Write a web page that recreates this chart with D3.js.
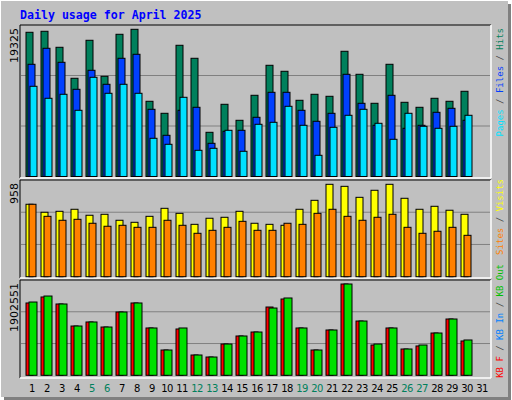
<!DOCTYPE html>
<html><head><meta charset="utf-8">
<script src="https://cdn.jsdelivr.net/npm/d3@7"></script>
<style>body{margin:0;background:#fff}</style>
</head><body>
<script>
// daily stats, April 2025 (day 31 has no data)
var days = d3.range(1, 32);
var weekends = [5, 6, 12, 13, 19, 20, 26, 27];
var hits = [18933,19065,16964,12894,17883,13156,18671,19325,9874,8298,17227,15520,5803,9480,7379,10662,14601,13813,10005,10793,10530,16439,13419,9611,14732,9742,9086,10268,9874,11187,0];
var files = [14732,16833,14994,11449,13944,12106,15520,16045,8823,5410,8692,9086,4359,5935,6066,7773,11055,11055,8692,7248,8298,13419,9611,6723,10662,6329,6723,8429,8954,7379,0];
var pages = [11843,10268,10793,8692,13025,10924,12106,10924,5016,4228,10399,3440,3703,6066,3309,6854,7116,9217,6723,2784,6460,8036,8823,6985,4884,8298,6591,6329,6591,8036,0];
var visits = [751,668,678,699,637,647,585,564,626,709,657,543,606,616,678,554,543,533,699,792,958,937,823,896,958,813,699,730,689,647,0];
var sites = [751,626,585,595,554,523,533,512,512,585,533,450,481,512,574,481,481,554,543,657,699,626,585,616,647,512,450,471,512,429,0];
var kbIn = [1507,1632,1486,1027,1111,1006,1319,1507,986,527,965,423,381,652,819,902,1423,1590,986,527,944,1902.551,1131,631,986,548,611,881,1173,715,0];
var kbOut = [1527,1652,1486,1027,1111,1006,1319,1507,986,527,986,423,381,652,819,902,1402,1611,986,527,944,1902.551,1131,652,986,548,631,881,1173,736,0];

var W = 512, H = 400;
var svg = d3.select('body').append('svg').attr('width', W).attr('height', H);
var mono = 'DejaVu Sans Mono, monospace';

svg.append('rect').attr('width', W).attr('height', H).attr('fill', '#fff');
svg.append('rect').attr('x', 1).attr('y', 1).attr('width', 507).attr('height', 396).attr('fill', '#c0c0c0');
svg.append('rect').attr('x', 508).attr('y', 4).attr('width', 3).attr('height', 396).attr('fill', '#808080');
svg.append('rect').attr('x', 4).attr('y', 397).attr('width', 507).attr('height', 3).attr('fill', '#808080');

svg.append('text').attr('x', 20).attr('y', 19).attr('fill', '#0000ff')
    .attr('font-family', mono).attr('font-weight', 'bold').attr('font-size', 11.6)
    .text('Daily usage for April 2025');

var x = d3.scaleBand().domain(days).range([25, 490]);

function panel(top, bottom, base, maxY, max, label, series, legend) {
    var y = d3.scaleLinear().domain([0, max]).range([base, maxY]);
    var g = svg.append('g');
    g.append('line').attr('x1', 20).attr('x2', 491).attr('y1', top).attr('y2', top).attr('stroke', '#000');
    g.append('line').attr('x1', 20).attr('x2', 20).attr('y1', top).attr('y2', bottom).attr('stroke', '#000');
    g.append('line').attr('x1', 20).attr('x2', 491).attr('y1', bottom).attr('y2', bottom).attr('stroke', '#fff').attr('stroke-width', 1.5);
    g.append('line').attr('x1', 491).attr('x2', 491).attr('y1', top).attr('y2', bottom).attr('stroke', '#fff').attr('stroke-width', 1.5);
    [1, 2].forEach(function (k) {
        var gy = base - (base - top) * k / 3;
        g.append('line').attr('x1', 21).attr('x2', 490).attr('y1', gy).attr('y2', gy).attr('stroke', '#808080');
    });
    series.forEach(function (s) {
        g.selectAll(null).data(s.values.map(function (v, i) { return {d: days[i], v: v}; })
                .filter(function (o) { return o.v > 0; }))
            .enter().append('rect')
            .attr('x', function (o) { return x(o.d) + s.dx; })
            .attr('width', s.w)
            .attr('y', function (o) { return y(o.v); })
            .attr('height', function (o) { return base - y(o.v); })
            .attr('fill', s.color).attr('stroke', '#000').attr('stroke-width', 1);
    });
    g.append('text').attr('transform', 'translate(18,' + (top + 3) + ') rotate(-90)')
        .attr('text-anchor', 'end').attr('font-family', 'DejaVu Sans, sans-serif')
        .attr('font-size', 11).attr('fill', '#000').text(label);
    var t = g.append('text').attr('transform', 'translate(503,' + (legend.y) + ') rotate(-90)')
        .attr('text-anchor', 'end').attr('font-family', mono).attr('font-size', 9);
    legend.parts.forEach(function (p, i) {
        if (i) t.append('tspan').attr('fill', '#404040').text(' / ');
        t.append('tspan').attr('fill', p[1]).text(p[0]);
    });
}

panel(25, 178, 176.5, 29.3, 19325, '19325', [
    {values: hits, color: '#00805c', dx: 1, w: 7},
    {values: files, color: '#0040ff', dx: 3, w: 7},
    {values: pages, color: '#00e0ff', dx: 5, w: 7}
], {y: 28, parts: [['Pages', '#00e0ff'], ['Files', '#0040ff'], ['Hits', '#00805c']]});

panel(180, 278, 276.7, 184.3, 958, '958', [
    {values: visits, color: '#ffff00', dx: 1, w: 7},
    {values: sites, color: '#ff8000', dx: 4, w: 7}
], {y: 179, parts: [['Sites', '#ff8000'], ['Visits', '#ffff00']]});

panel(280, 378, 375.3, 284, 1902.551, '1902551', [
    {values: kbIn, color: '#ff0000', dx: 1, w: 7},
    {values: kbOut, color: '#00e000', dx: 4, w: 8}
], {y: 264, parts: [['KB F', '#ff0000'], ['KB In', '#0080ff'], ['KB Out', '#00c000']]});

svg.selectAll('.day').data(days).enter().append('text')
    .attr('x', function (d) { return x(d) + 7; }).attr('y', 392)
    .attr('text-anchor', 'middle').attr('font-family', 'DejaVu Sans, sans-serif').attr('font-size', 10)
    .attr('letter-spacing', -0.6)
    .attr('fill', function (d) { return weekends.indexOf(d) >= 0 ? '#00805c' : '#000'; })
    .text(function (d) { return d; });
</script>
</body></html>
